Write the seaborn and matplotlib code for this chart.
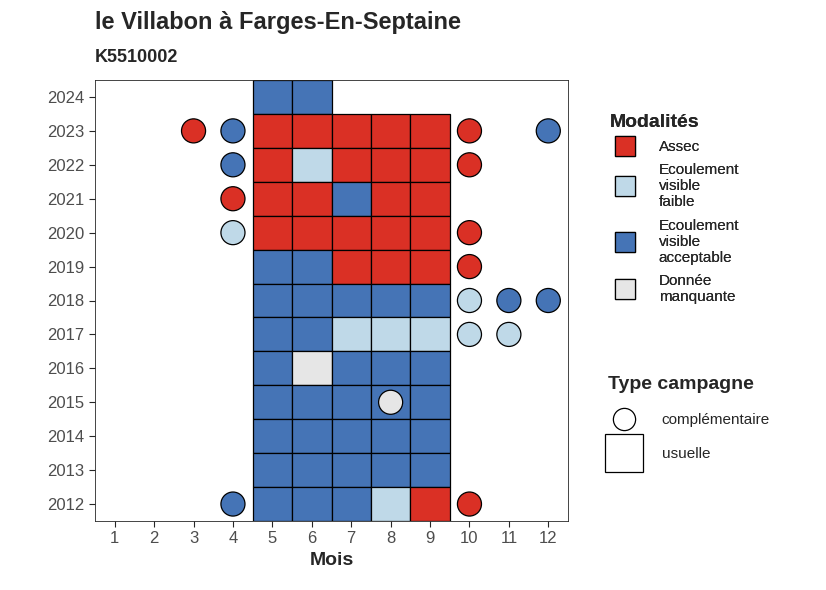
import matplotlib
matplotlib.use("Agg")
import matplotlib.pyplot as plt
import seaborn as sns
import pandas as pd
from matplotlib.patches import Rectangle
from matplotlib.lines import Line2D

sns.set_style("ticks")
plt.rcParams["font.family"] = ["Liberation Sans", "DejaVu Sans"]

COLORS = {
    "Assec": "#DA3025",
    "Ecoulement visible faible": "#BFD9E8",
    "Ecoulement visible acceptable": "#4574B6",
    "Donnée manquante": "#E6E6E6",
}
A, F, V, M = "Assec", "Ecoulement visible faible", "Ecoulement visible acceptable", "Donnée manquante"

# usual campaigns (tiles): year -> list of (month, modality)
tile_years = [2024, 2024,
              2023, 2023, 2023, 2023, 2023,
              2022, 2022, 2022, 2022, 2022,
              2021, 2021, 2021, 2021, 2021,
              2020, 2020, 2020, 2020, 2020,
              2019, 2019, 2019, 2019, 2019,
              2018, 2018, 2018, 2018, 2018,
              2017, 2017, 2017, 2017, 2017,
              2016, 2016, 2016, 2016, 2016,
              2015, 2015, 2015, 2015, 2015,
              2014, 2014, 2014, 2014, 2014,
              2013, 2013, 2013, 2013, 2013,
              2012, 2012, 2012, 2012, 2012]
tile_months = [5, 6] + [5, 6, 7, 8, 9] * 12
tile_mods = [V, V,
             A, A, A, A, A,
             A, F, A, A, A,
             A, A, V, A, A,
             A, A, A, A, A,
             V, V, A, A, A,
             V, V, V, V, V,
             V, V, F, F, F,
             V, M, V, V, V,
             V, V, V, V, V,
             V, V, V, V, V,
             V, V, V, V, V,
             V, V, V, F, A]

# complementary campaigns (circles)
circ_years = [2023, 2023, 2023, 2023, 2022, 2022, 2021, 2020, 2020, 2019,
              2018, 2018, 2018, 2017, 2017, 2015, 2012, 2012]
circ_months = [3, 4, 10, 12, 4, 10, 4, 4, 10, 10,
               10, 11, 12, 10, 11, 8, 4, 10]
circ_mods = [A, V, A, V, V, A, A, F, A, A,
             F, V, V, F, F, M, V, A]

tiles = pd.DataFrame({"annee": tile_years, "mois": tile_months, "modalite": tile_mods})
circs = pd.DataFrame({"annee": circ_years, "mois": circ_months, "modalite": circ_mods})

fig = plt.figure(figsize=(8.26, 5.9), dpi=100)
ax = fig.add_axes([95 / 826, 69 / 590, 473 / 826, 441 / 590])

for _, r in tiles.iterrows():
    ax.add_patch(Rectangle((r.mois - 0.5, r.annee - 0.5), 1, 1,
                           facecolor=COLORS[r.modalite], edgecolor="black", lw=0.9, zorder=2))

sns.scatterplot(data=circs, x="mois", y="annee", hue="modalite", palette=COLORS,
                s=300, edgecolor="black", linewidth=0.9, legend=False, ax=ax, zorder=3)

ax.set_xlim(0.5, 12.5)
ax.set_ylim(2011.5, 2024.5)
ax.set_xticks(range(1, 13))
ax.set_yticks(range(2012, 2025))
ax.tick_params(labelsize=12, labelcolor="#4D4D4D", length=4)
ax.set_xlabel("Mois", fontsize=14, fontweight="bold")
ax.set_ylabel("")
for s in ax.spines.values():
    s.set_linewidth(0.6)

fig.text(95 / 826, 1 - 22 / 590, "le Villabon à Farges-En-Septaine", fontsize=17,
         fontweight="bold", va="center")
fig.text(95 / 826, 1 - 58 / 590, "K5510002", fontsize=13, fontweight="bold", va="center")

labels = ["Assec", "Ecoulement\nvisible\nfaible", "Ecoulement\nvisible\nacceptable", "Donnée\nmanquante"]
h1 = [Line2D([], [], marker="s", ls="", markersize=15, markerfacecolor=c,
             markeredgecolor="black", markeredgewidth=0.9) for c in COLORS.values()]
leg1 = fig.legend(h1, labels, title="Modalités", loc="upper left",
                  bbox_to_anchor=(596 / 826, 1 - 100 / 590), frameon=False,
                  fontsize=11, title_fontproperties={"weight": "bold", "size": 14},
                  labelspacing=0.6, handletextpad=1.2, alignment="left")
h2 = [Line2D([], [], marker="o", ls="", markersize=16, markerfacecolor="white",
             markeredgecolor="black", markeredgewidth=0.9),
      Line2D([], [], marker="s", ls="", markersize=28, markerfacecolor="white",
             markeredgecolor="black", markeredgewidth=0.9)]
leg2 = fig.legend(h2, ["complémentaire", "usuelle"], title="Type campagne", loc="upper left",
                  bbox_to_anchor=(596 / 826, 1 - 364 / 590), frameon=False,
                  fontsize=11, title_fontproperties={"weight": "bold", "size": 14},
                  labelspacing=1.3, handletextpad=1.5, borderpad=0.3, alignment="left")
fig.add_artist(leg1)

fig.savefig("out.png", dpi=100)
